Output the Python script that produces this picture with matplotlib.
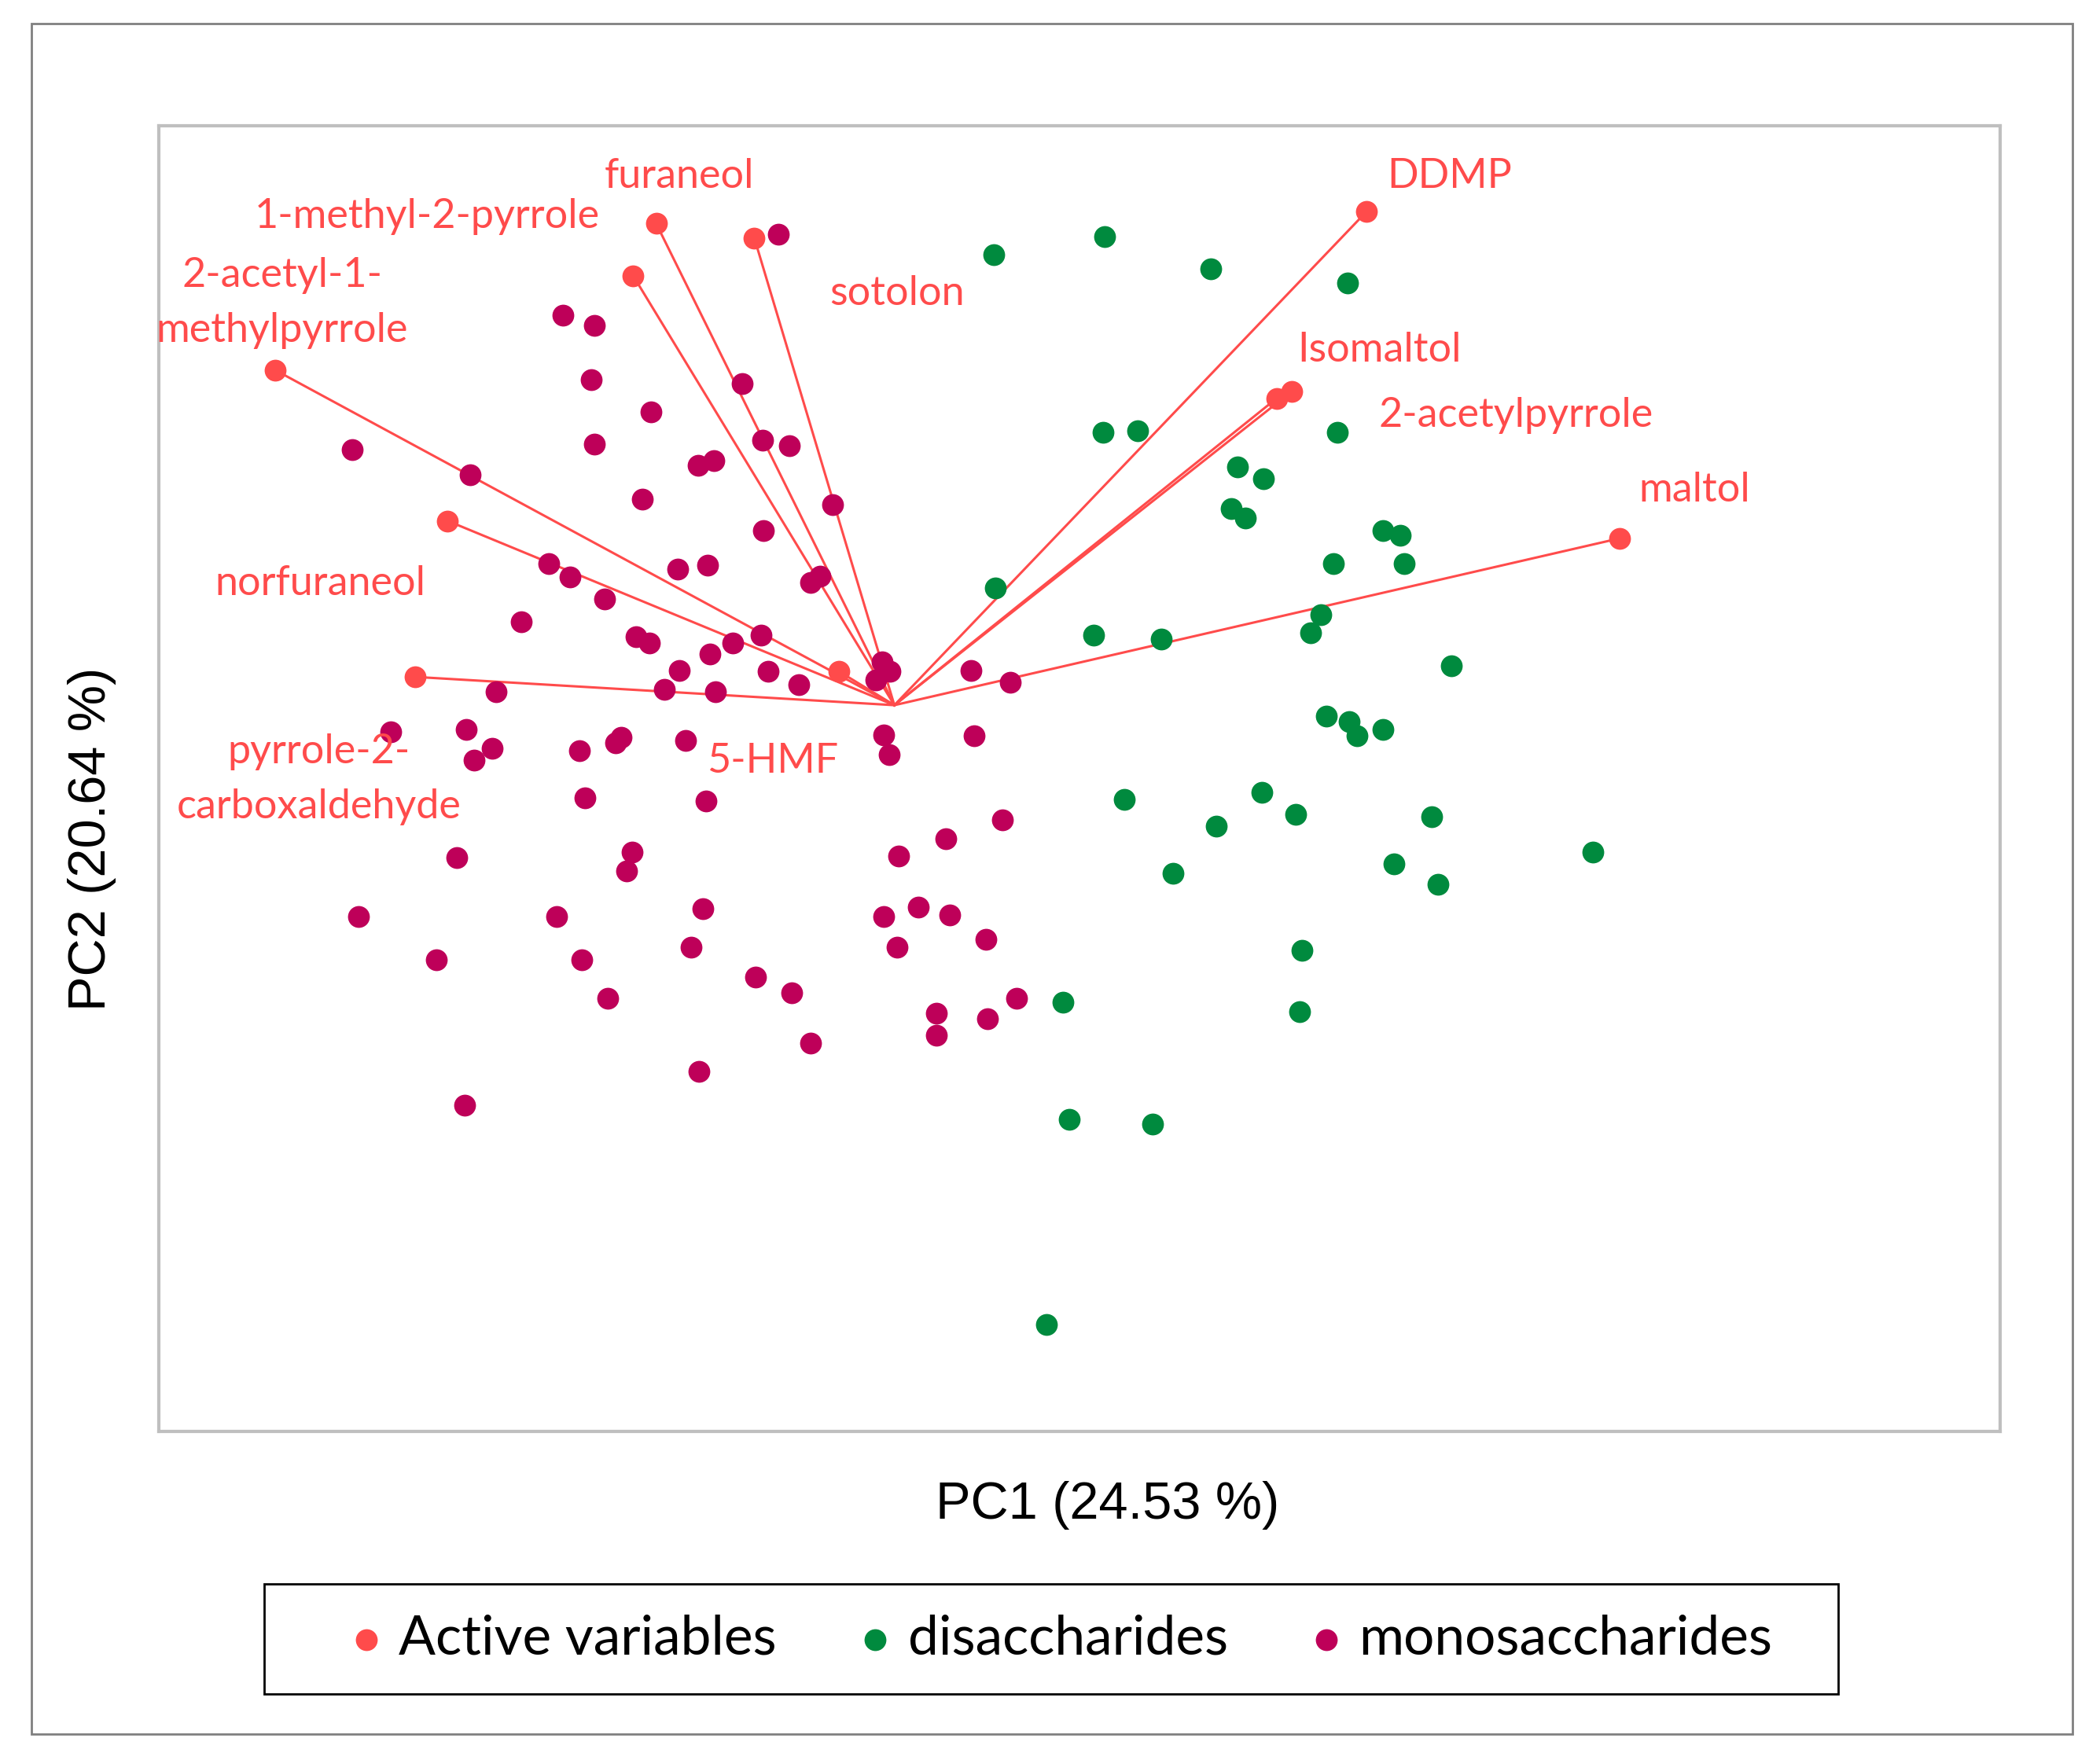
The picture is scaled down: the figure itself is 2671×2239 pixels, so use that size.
import matplotlib.pyplot as plt
from matplotlib.patches import Rectangle

# active variables: end points of the red vectors (PC1, PC2)
var_names = ['2-acetyl-1-\nmethylpyrrole', '1-methyl-2-pyrrole', 'furaneol', 'sotolon',
             'norfuraneol', 'pyrrole-2-\ncarboxaldehyde', '5-HMF',
             'DDMP', 'Isomaltol', '2-acetylpyrrole', 'maltol']
var_pc1 = [-4.60, -1.94, -1.77, -1.04, -3.32, -3.56, -0.41, 3.51, 2.95, 2.84, 5.39]
var_pc2 = [2.49, 3.19, 3.58, 3.47, 1.37, 0.21, 0.25, 3.67, 2.33, 2.28, 1.24]

# disaccharide samples
di_pc1 = [0.74, 1.56, 2.35, 3.37, 1.55, 1.81, 3.29, 2.55, 2.74, 2.50, 2.61, 3.63, 3.76, 3.26,
          3.79, 0.75, 3.17, 3.09, 1.48, 1.98, 4.14, 3.21, 3.38, 3.44, 3.63, 1.71, 2.73, 2.98,
          2.39, 2.07, 3.71, 3.99, 4.04, 5.19, 3.03, 3.01, 1.25, 1.30, 1.92, 1.13]
di_pc2 = [3.35, 3.48, 3.24, 3.14, 2.03, 2.04, 2.03, 1.77, 1.68, 1.46, 1.39, 1.30, 1.26, 1.05,
          1.05, 0.87, 0.67, 0.54, 0.52, 0.49, 0.29, -0.08, -0.12, -0.23, -0.18, -0.70, -0.65,
          -0.81, -0.90, -1.25, -1.18, -0.83, -1.33, -1.09, -1.82, -2.28, -2.21, -3.08, -3.11,
          -4.60]

# monosaccharide samples
mono_pc1 = [-0.86, -2.46, -2.23, -2.25, -1.81, -1.13, -2.23, -4.03, -0.98, -0.78, -1.46, -1.34,
            -3.15, -1.87, -0.46, -0.97, -2.57, -2.41, -1.61, -1.39, -2.15, -0.62, -0.55, -2.77,
            -1.92, -1.82, -1.20, -0.99, -1.37, -1.60, -0.94, -1.71, -1.33, -2.96, -0.71, -0.09,
            -0.03, -0.14, 0.57, 0.86, -3.74, -3.18, -2.99, -3.12, -2.34, -2.07, -2.03, -1.55,
            -0.08, -0.04, 0.59, -2.30, -1.40, -3.25, -1.95, -1.99, 0.80, 0.38, 0.03, -3.98,
            -2.51, -1.42, -0.08, 0.18, 0.41, -3.40, -2.32, -1.51, 0.02, 0.68, -2.13, -1.03,
            -0.76, 0.31, 0.91, 0.31, 0.69, -0.62, -1.45, -3.19]
mono_pc2 = [3.50, 2.90, 2.82, 2.42, 2.18, 2.39, 1.94, 1.90, 1.97, 1.93, 1.78, 1.82,
            1.71, 1.53, 1.49, 1.30, 1.05, 0.95, 1.01, 1.04, 0.79, 0.91, 0.96, 0.62,
            0.51, 0.46, 0.46, 0.52, 0.38, 0.26, 0.25, 0.12, 0.10, 0.10, 0.15, 0.32,
            0.25, 0.19, 0.26, 0.17, -0.20, -0.18, -0.32, -0.41, -0.34, -0.28, -0.24, -0.26,
            -0.22, -0.37, -0.23, -0.69, -0.71, -1.13, -1.09, -1.23, -0.85, -0.99, -1.12, -1.57,
            -1.57, -1.51, -1.57, -1.50, -1.56, -1.89, -1.89, -1.80, -1.80, -1.74, -2.18, -2.02,
            -2.14, -2.29, -2.18, -2.45, -2.33, -2.51, -2.72, -2.97]

red = '#FF4B4B'
green = '#008A3E'
purple = '#BE0059'

plt.rcParams['font.family'] = ['Lato', 'DejaVu Sans']

fig = plt.figure(figsize=(26.71, 22.39), dpi=100)
ax = fig.add_axes([0.0758, 0.1866, 0.8765, 0.7419])

# vectors from the origin
for x, y in zip(var_pc1, var_pc2):
    ax.plot([0, x], [0, y], color=red, lw=2.2, zorder=1)

ax.scatter(var_pc1, var_pc2, s=400, color=red, linewidths=0, zorder=2, label='Active variables')
ax.scatter(di_pc1, di_pc2, s=400, color=green, linewidths=0, zorder=3, label='disaccharides')
ax.scatter(mono_pc1, mono_pc2, s=400, color=purple, linewidths=0, zorder=3, label='monosaccharides')

# label anchor: centre x, first baseline y
label_pos = [(-4.55, 3.107), (-3.474, 3.549), (-1.597, 3.844), (0.019, 2.971),
             (-4.266, 0.82), (-4.277, -0.429), (-0.904, -0.502),
             (4.124, 3.844), (3.603, 2.553), (4.617, 2.069), (5.943, 1.513)]
for name, (lx, ly) in zip(var_names, label_pos):
    for k, line in enumerate(name.split('\n')):
        ax.annotate(line, (lx, ly), xytext=(0, -50.4 * k), textcoords='offset points',
                    ha='center', va='baseline', fontsize=37.5, color=red)

ax.set_xlim(-5.462, 8.213)
ax.set_ylim(-5.398, 4.305)
ax.set_xticks([])
ax.set_yticks([])
for sp in ax.spines.values():
    sp.set_color('#BFBFBF')
    sp.set_linewidth(3)

ax.set_xlabel('PC1 (24.53 %)', fontsize=48, family='Liberation Sans', va='center')
ax.xaxis.set_label_coords(0.515, -0.0565)
ax.set_ylabel('PC2 (20.64 %)', fontsize=48, family='Liberation Sans', va='center')
ax.yaxis.set_label_coords(-0.0365, 0.4537)

# legend entries and its box
fig.legend(loc='center left', bbox_to_anchor=(0.1666, 0.0688), ncol=3, frameon=False,
           fontsize=50, borderpad=0, borderaxespad=0, handlelength=0.6,
           handletextpad=0.3, columnspacing=1.5, scatterpoints=1)
fig.patches.append(Rectangle((336 / 2671, 84 / 2239), 2002 / 2671, 140 / 2239,
                             transform=fig.transFigure, fill=False, ec='black', lw=2))

# outer frame
fig.patches.append(Rectangle((40 / 2671, 33 / 2239), 2596 / 2671, 2176 / 2239,
                             transform=fig.transFigure, fill=False, ec='#808080', lw=2))

fig.savefig('out.png', dpi=100)
